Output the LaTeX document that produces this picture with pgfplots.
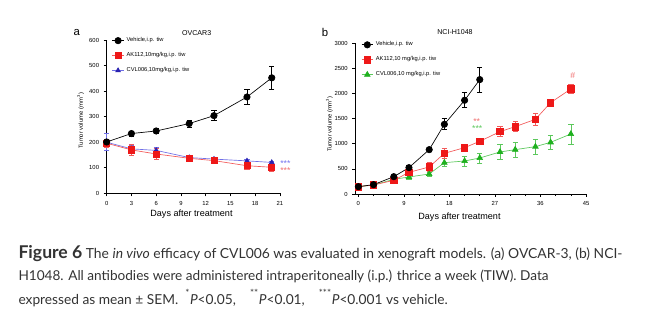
\documentclass[border=0pt]{standalone}
\usepackage{pgfplots}
\pgfplotsset{compat=1.18}
\usepackage{fontspec}
\setmainfont{Liberation Sans}
\newfontfamily\capfont{Lato}
\definecolor{redm}{HTML}{EE1818}
\definecolor{redl}{HTML}{F25A5A}
\definecolor{redast}{HTML}{F07070}
\definecolor{bluem}{HTML}{2A22B0}
\definecolor{bluel}{HTML}{7070E6}
\definecolor{blueast}{HTML}{7474EE}
\definecolor{greenm}{HTML}{1EB01E}
\definecolor{greenl}{HTML}{5CC85C}
\definecolor{capgray}{HTML}{333333}

\tikzset{ast/.style={inner sep=0pt, font=\fontsize{6.5}{6.5}\selectfont}}
\pgfplotsset{
  panel/.style={
    scale only axis, clip=false,
    axis x line*=bottom, axis y line*=left,
    axis line style={-, line width=0.5pt, black},
    tick align=outside, major tick length=2.2pt, minor tick length=1.5pt,
    tick style={black, line width=0.5pt},
    tick label style={font=\fontsize{4.4}{5}\selectfont},
    /pgf/number format/assume math mode=true,
    /pgf/number format/1000 sep={},
    xtick pos=bottom, ytick pos=left,
    legend cell align=left,
    reverse legend,
    legend style={draw=none, fill=none, font=\fontsize{4.3}{5}\selectfont,
      row sep=2.6pt, inner sep=0pt, anchor=north west},
    legend image code/.code={\draw[#1, mark repeat=2, mark phase=2] plot coordinates {(0pt,0pt) (4.2pt,0pt) (8.4pt,0pt)};},
  },
  ser/.style n args={3}{color=#2, line width=0.5pt, mark=#1, mark options={fill=#3, draw=#3, solid},
    error bars/.cd, y dir=both, y explicit,
    error bar style={line width=0.5pt, color=#2},
    error mark options={rotate=90, mark size=2pt, line width=0.5pt, color=#2}},
}

\begin{document}
\begin{tikzpicture}
\path[use as bounding box] (0,0) rectangle (484.5pt,241.5pt);
% ---------------- panel a
\begin{axis}[panel, at={(80pt,96.5pt)}, anchor=south west,
  width=130pt, height=115pt,
  xmin=0, xmax=21, ymin=0, ymax=600,
  xtick={0,3,...,21}, ytick={0,100,...,600},
  legend style={at={(0.03,1.035)}},
]
\addplot[mark size=2.0pt, ser={triangle*}{bluel}{bluem}] table[x=x,y=y,y error=e] {
x y e
0 200 33
3 174 14
6 168 12
10 140 8
13 134 8
17 127 6
20 121 6
};
\addlegendentry{CVL006,10mg/kg,i.p. tiw}
\addplot[mark size=2.3pt, ser={square*}{redl}{redm}] table[x=x,y=y,y error=e] {
x y e
0 196 15
3 170 20
6 154 22
10 137 10
13 128 12
17 108 14
20 102 14
};
\addlegendentry{AK112,10mg/kg,i.p. tiw}
\addplot[mark size=2.4pt, ser={*}{black}{black}] table[x=x,y=y,y error=e] {
x y e
0 201 8
3 234 9
6 244 9
10 273 14
13 304 20
17 377 30
20 452 45
};
\addlegendentry{Vehicle,i.p. tiw}
\node[ast, text=blueast] at (axis cs:21.65,117) {***};
\node[ast, text=redast] at (axis cs:21.65,91) {***};
\end{axis}
% ---------------- panel b
\begin{axis}[panel, at={(266.5pt,96pt)}, anchor=south west,
  width=173pt, height=113pt,
  xmin=-0.6, xmax=45, ymin=0, ymax=3000,
  xtick={0,9,...,45}, minor xtick={3,6,12,15,21,24,30,33,39,42},
  ytick={0,500,...,3000},
  legend style={at={(0.025,1.03)}},
]
\addplot[mark size=2.4pt, ser={triangle*}{greenl}{greenm}] table[x=x,y=y,y error=e] {
x y e
0 146 20
3 180 20
7 292 30
10 339 40
14 398 40
17 624 80
21 657 100
24 717 100
28 837 150
31 883 150
35 943 150
38 1029 130
42 1195 200
};
\addlegendentry{CVL006,10 mg/kg,i.p. tiw}
\addplot[mark size=2.4pt, ser={square*}{redl}{redm}] table[x=x,y=y,y error=e] {
x y e
0 146 20
3 180 20
7 272 30
10 431 50
14 538 90
17 810 90
21 923 70
24 1049 60
28 1242 100
31 1341 100
35 1487 110
38 1819 60
42 2091 90
};
\addlegendentry{AK112,10 mg/kg,i.p. tiw}
\addplot[mark size=2.4pt, ser={*}{black}{black}] table[x=x,y=y,y error=e] {
x y e
0 146 20
3 186 20
7 345 30
10 525 40
14 883 40
17 1388 110
21 1866 150
24 2278 250
};
\addlegendentry{Vehicle,i.p. tiw}
\node[ast, text=redast] at (axis cs:23.4,1450) {**};
\node[ast, text=greenl] at (axis cs:23.5,1300) {***};
\node[text=redast, inner sep=0pt, font=\fontsize{6.5}{6.5}\selectfont] at (axis cs:42.4,2350) {\#};
\end{axis}
% ---------------- labels
\node[font=\fontsize{8.5}{9}\selectfont] at (57.5pt,216.75pt) {a};
\node[font=\fontsize{5.3}{6}\selectfont] at (147.5pt,216.75pt) {OVCAR3};
\node[font=\fontsize{8.5}{9}\selectfont] at (243.75pt,217.5pt) {b};
\node[font=\fontsize{5.3}{6}\selectfont] at (341.25pt,217.5pt) {NCI-H1048};
\node[rotate=90, font=\fontsize{4.4}{5}\selectfont] at (60.5pt,150.9pt) {Tumor volume (mm\textsuperscript{3})};
\node[rotate=90, font=\fontsize{4.4}{5}\selectfont] at (247pt,148.5pt) {Tumor volume (mm\textsuperscript{3})};
\node[font=\fontsize{6.8}{7}\selectfont] at (143.6pt,81pt) {Days after treatment};
\node[font=\fontsize{6.8}{7}\selectfont] at (344.6pt,79pt) {Days after treatment};
% ---------------- caption
\begin{scope}[every node/.style={anchor=base west, inner sep=0pt, text=capgray}]
\node[font=\capfont\fontsize{10.4}{12}\selectfont] at (13.7pt,48pt) {{\fontsize{13.2}{12}\selectfont\bfseries Figure 6} The \textit{in vivo} efficacy of CVL006 was evaluated in xenograft models. (a) OVCAR-3, (b) NCI-};
\node[font=\capfont\fontsize{10.2}{12}\selectfont] at (13.7pt,31pt) {H1048. All antibodies were administered intraperitoneally (i.p.) thrice a week (TIW). Data};
\node[font=\capfont\fontsize{10.3}{12}\selectfont] at (13.7pt,13.5pt) {expressed as mean \textpm{} SEM.\ \ \raisebox{2pt}{\textsuperscript{*}}\textit{P}<0.05,\ \ \ \ \raisebox{2pt}{\textsuperscript{**}}\textit{P}<0.01,\ \ \ \ \raisebox{2pt}{\textsuperscript{***}}\textit{P}<0.001 vs vehicle.};
\end{scope}
\end{tikzpicture}
\end{document}
